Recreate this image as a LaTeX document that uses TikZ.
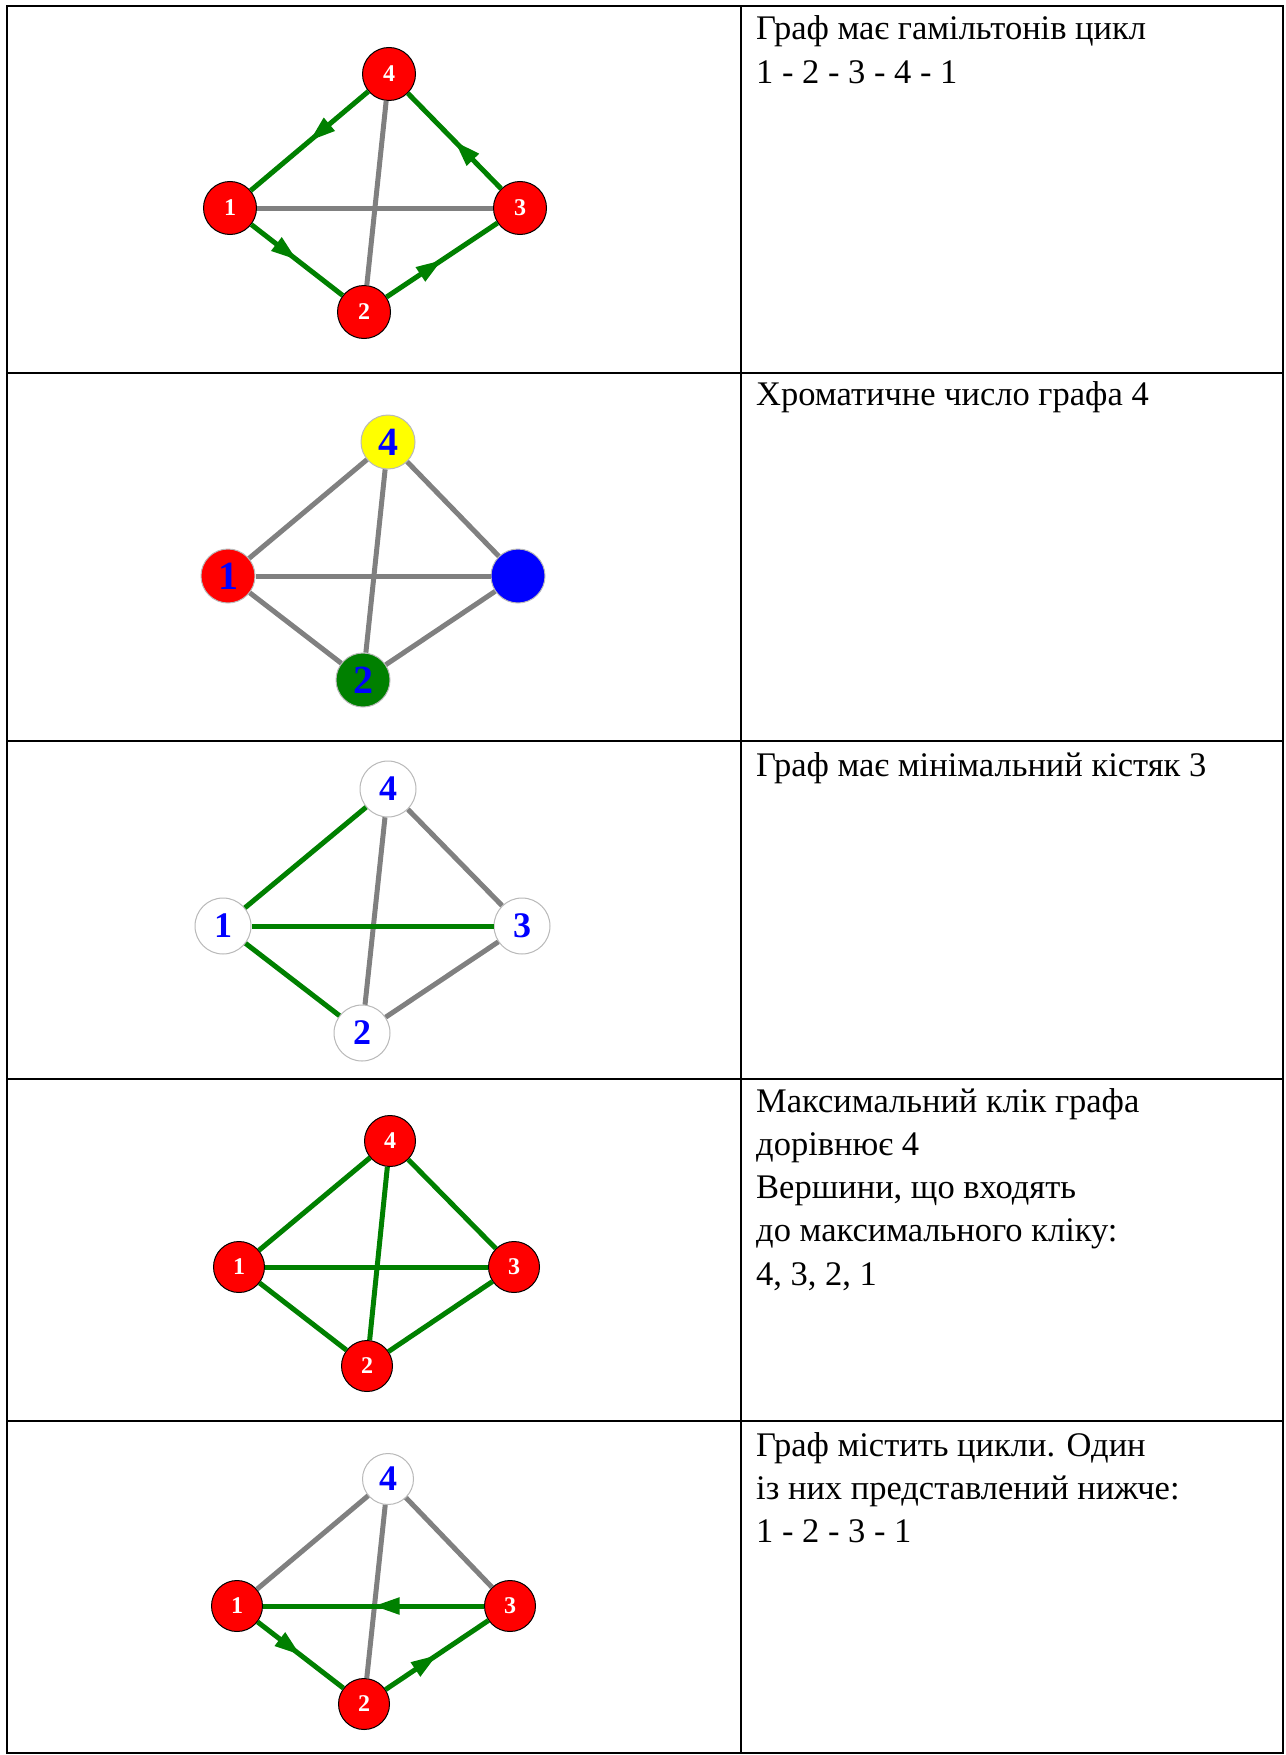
\documentclass[tikz,border=0pt]{standalone}
\usepackage{fontspec}
\setmainfont{Liberation Serif}
\usepackage{tikz}
\usetikzlibrary{
  arrows.meta,
  decorations.markings
}
\definecolor{edgegreen}{RGB}{0,128,0}
\definecolor{edgegrey}{RGB}{128,128,128}
\definecolor{vxred}{RGB}{255,0,0}
\definecolor{vxblue}{RGB}{0,0,255}
\definecolor{vxyellow}{RGB}{255,255,0}
\tikzset{
  vertex/.style={circle, inner sep=0pt, minimum size=#1, line width=1pt},
  redvx/.style={vertex=#1, draw=black, fill=vxred, text=white,
    font=\fontsize{24}{24}\selectfont\bfseries},
  whitevx/.style={vertex=#1, draw=gray!55, fill=white, text=vxblue,
    font=\fontsize{36}{36}\selectfont\bfseries},
  colvx/.style={vertex=54pt, draw=gray!55, text=vxblue,
    font=\fontsize{40}{40}\selectfont\bfseries},
  gedge/.style={color=edgegreen, line width=5pt},
  greyedge/.style={color=edgegrey, line width=5pt},
  cycarr/.style={gedge, postaction={decorate},
    decoration={markings, mark=at position 0.5 with
      {\arrow{Triangle[length=26pt, width=16pt]}}}},
  grid/.style={draw=black, line width=2.5pt},
  % base anchor of a multi-line node is its last line
  celltext/.style={anchor=base west, align=left, inner sep=0pt,
    font=\fontsize{34.5}{43.3}\selectfont},
}

\begin{document}
\begin{tikzpicture}[x=1pt, y=-1pt]
  \useasboundingbox (0,0) rectangle (1285,1755);

  % table
  \draw[grid] (7,6) rectangle (1283,1753);
  \draw[grid] (741,6) -- (741,1753);
  \foreach \y in {373,741,1079,1421} {
    \draw[grid] (7,\y) -- (1283,\y);
  }

  % row 1: hamiltonian cycle
  \node[redvx=53pt] (h1) at (230,208) {1};
  \node[redvx=53pt] (h2) at (364,312) {2};
  \node[redvx=53pt] (h3) at (520,208) {3};
  \node[redvx=53pt] (h4) at (389,74) {4};
  \foreach \a/\b in {h1/h3, h4/h2} {
    \draw[greyedge] (\a) -- (\b);
  }
  \foreach \a/\b in {h1/h2, h2/h3, h3/h4, h4/h1} {
    \draw[cycarr] (\a) -- (\b);
  }
  \node[celltext] (t1) at (756,83.3)
    {Граф має гамільтонів цикл\\1 - 2 - 3 - 4 - 1};

  % row 2: colouring
  \node[colvx, fill=vxred] (c1) at (228,576) {1};
  \node[colvx, fill=edgegreen] (c2) at (363,680) {2};
  \node[colvx, fill=vxblue] (c3) at (518,576) {};
  \node[colvx, fill=vxyellow] (c4) at (388,442) {4};
  \foreach \a/\b in {c1/c3, c4/c2, c1/c4, c4/c3, c1/c2, c2/c3} {
    \draw[greyedge] (\a) -- (\b);
  }
  \node[celltext] (t2) at (756,405) {Хроматичне число графа 4};

  % row 3: spanning tree
  \node[whitevx=56pt] (s1) at (223,926) {1};
  \node[whitevx=56pt] (s2) at (362,1033) {2};
  \node[whitevx=56pt] (s3) at (522,926) {3};
  \node[whitevx=56pt] (s4) at (388,789) {4};
  \foreach \a/\b in {s4/s3, s4/s2, s2/s3} {
    \draw[greyedge] (\a) -- (\b);
  }
  \foreach \a/\b in {s1/s4, s1/s3, s1/s2} {
    \draw[gedge] (\a) -- (\b);
  }
  \node[celltext] (t3) at (756,776) {Граф має мінімальний кістяк 3};

  % row 4: clique
  \node[redvx=51pt] (k1) at (239,1267) {1};
  \node[redvx=51pt] (k2) at (367,1366) {2};
  \node[redvx=51pt] (k3) at (514,1267) {3};
  \node[redvx=51pt] (k4) at (390,1141) {4};
  \foreach \a/\b in {k1/k3, k4/k2, k1/k4, k4/k3, k1/k2, k2/k3} {
    \draw[gedge] (\a) -- (\b);
  }
  \node[celltext] (t4) at (756,1285.2)
    {Максимальний клік графа\\дорівнює 4\\Вершини, що входять\\до максимального кліку:\\4, 3, 2, 1};

  % row 5: cycle
  \node[redvx=51pt] (y1) at (237,1606) {1};
  \node[redvx=51pt] (y2) at (364,1704) {2};
  \node[redvx=51pt] (y3) at (510,1606) {3};
  \node[whitevx=51pt] (y4) at (388,1479) {4};
  \foreach \a/\b in {y4/y1, y4/y2, y4/y3} {
    \draw[greyedge] (\a) -- (\b);
  }
  \foreach \a/\b in {y1/y2, y2/y3, y3/y1} {
    \draw[cycarr] (\a) -- (\b);
  }
  \node[celltext] (t5) at (756,1542.6)
    {Граф містить цикли. Один\\із них представлений нижче:\\1 - 2 - 3 - 1};
\end{tikzpicture}
\end{document}
